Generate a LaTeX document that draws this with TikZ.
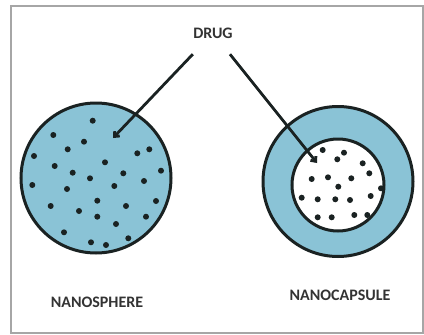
\documentclass[tikz,border=0pt]{standalone}
\usepackage{fontspec}
\setmainfont{Carlito}
\usepackage{xcolor}
\usepackage{tikz}
\usetikzlibrary{arrows.meta}

\definecolor{shellblue}{RGB}{138,195,214}
\definecolor{edgedark}{RGB}{26,34,34}

\begin{document}
\begin{tikzpicture}[
        x=1pt, y=-1pt,
        ball/.style={
            circle,
            draw=edgedark,
            fill=shellblue,
            line width=3pt,
            inner sep=0pt
        },
        label/.style={
            text=black!80,
            font=\fontsize{16}{19}\selectfont\bfseries,
            inner sep=0pt
        },
        arrow/.style={-{Straight Barb[length=4pt,width=7pt]}, line width=2.8pt, draw=edgedark},
        dot/.style={fill=edgedark}
    ]

    \useasboundingbox (0,0) rectangle (424,335);
    \draw [gray!70, line width=1.6pt] (11,6) rectangle (423,333);

    % particles
    \node (sphere) [ball, minimum size=150pt] at (96,178) {};
    \node (capsule) [ball, minimum size=150pt] at (338,181.5) {};
    \node (core) [ball, fill=white, minimum size=92pt] at (338,185) {};

    \foreach \p in {(92.7,120.7),(53.3,135),(84,141.7),(67.7,149.3),(137.3,153.3),
                    (149.3,149.3),(34,156),(105,162.3),(54.7,166),(72.7,172.7),
                    (123.3,173.3),(161,170.7),(90,178.3),(144,181),(32.3,185),
                    (67,189),(114.3,186),(97.3,200.7),(50.7,206),(126,206),
                    (156,201),(79,211),(97.3,216.7),(146,216.7),(116,224),
                    (64,232.3),(91,242.3),(106,245),(128.3,238.3)}
        \fill [dot] \p circle (3);

    \foreach \p in {(322.7,150),(337.3,159.3),(344,152.7),(362.7,163.3),(311.7,179),
                    (328,177.3),(351.3,178.3),(369.3,173.3),(338.3,186.7),(381,188.3),
                    (301.7,197.7),(317.7,199.3),(335.3,199.3),(350,200),(370.7,196),
                    (317.7,217.3),(331.7,217.3),(354.3,215),(367.3,215)}
        \fill [dot] \p circle (3);

    % labels
    \node (drug) [label, minimum width=50pt, minimum height=42pt] at (213,33) {DRUG};
    \node (nsphere) [label] at (97,302) {NANOSPHERE};
    \node (ncapsule) [label] at (340,295) {NANOCAPSULE};

    \coordinate (inSphere) at (113,138);
    \coordinate (inCore) at (317,163);

    \draw [arrow] (drug) -- (inSphere);
    \draw [arrow] (drug) -- (inCore);

\end{tikzpicture}
\end{document}
